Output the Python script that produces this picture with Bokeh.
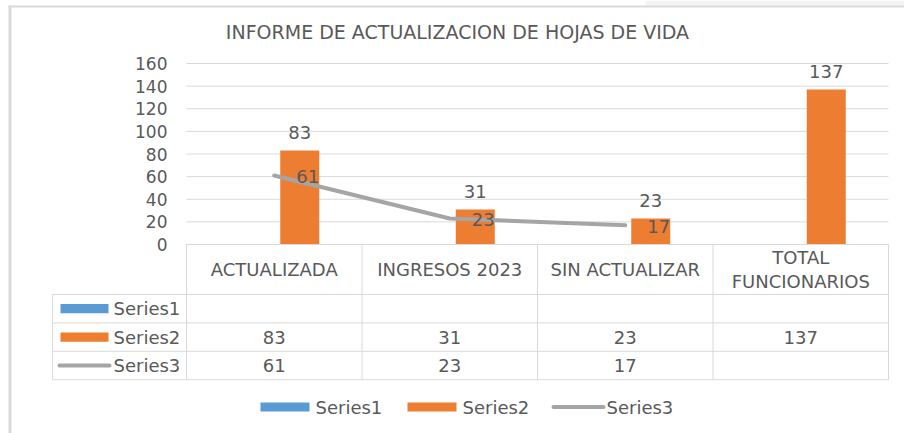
from bokeh.plotting import figure
from bokeh.models import Range1d, ColumnDataSource
from bokeh.core.properties import value
from bokeh.embed import file_html
from bokeh.resources import INLINE

# ---------------- data ----------------
title_text = "INFORME  DE ACTUALIZACION  DE HOJAS DE VIDA"
categories = ["ACTUALIZADA", "INGRESOS 2023", "SIN ACTUALIZAR", "TOTAL\nFUNCIONARIOS"]
series_names = ["Series1", "Series2", "Series3"]
series1 = [None, None, None, None]
series2 = [83, 31, 23, 137]
series3 = [61, 23, 17, None]
y_ticks = [0, 20, 40, 60, 80, 100, 120, 140, 160]

# ---------------- styling / layout ----------------
FONT = value("DejaVu Sans")
TXT = "#595959"
GRID = "#d9d9d9"
BLUE, ORANGE, GRAY = "#5b9bd5", "#ed7d31", "#a5a5a5"
FS = "18px"
FS_TICK = "17px"

W, H = 904, 433
PLOT_L, PLOT_R = 186, 888     # pixel extent of category area
ZERO_Y, TOP_Y = 244, 63       # pixel rows of 0 and max tick
NCAT = len(categories)
XPX = NCAT / (PLOT_R - PLOT_L)
YPX = y_ticks[-1] / (ZERO_Y - TOP_Y)


def xd(px):
    return (px - PLOT_L) * XPX


x_range = Range1d(xd(0), xd(W))
y_range = Range1d(-(H - ZERO_Y) * YPX, ZERO_Y * YPX)

p = figure(width=W, height=H, x_range=x_range, y_range=y_range,
           x_axis_location=None, y_axis_location=None,
           output_backend="svg", toolbar_location=None, min_border=0)
# second y scale: pixels below the zero line (for table, title, legend rows)
p.extra_y_ranges = {"px": Range1d(H - ZERO_Y, -ZERO_Y)}
p.outline_line_color = None
p.background_fill_color = "white"
p.border_fill_color = "white"
p.xgrid.grid_line_color = None
p.ygrid.grid_line_color = None

# chart frame border (left / top) and window band
p.quad(left=[xd(645)], right=[xd(W)], top=[-ZERO_Y], bottom=[5 - ZERO_Y],
       fill_color="#f4f4f4", line_color=None, y_range_name="px")
p.segment(x0=[xd(8), xd(9.5)], x1=[xd(W), xd(9.5)], y0=[6 - ZERO_Y, 5 - ZERO_Y],
          y1=[6 - ZERO_Y, H - ZERO_Y], line_color=GRID, line_width=[2, 3], y_range_name="px")

# title
p.text(x=[xd(463)], y=[31 - ZERO_Y], text=[title_text], y_range_name="px",
       text_font=FONT, text_font_size="19px", text_color=TXT,
       text_align="center", text_baseline="middle")

# gridlines
gt = y_ticks[1:]
p.segment(x0=[0] * len(gt), x1=[NCAT] * len(gt), y0=gt, y1=gt, line_color=GRID, line_width=1)

# y tick labels
p.text(x=[xd(167)] * len(y_ticks), y=y_ticks, text=[str(t) for t in y_ticks],
       text_font=FONT, text_font_size=FS_TICK, text_color=TXT,
       text_align="right", text_baseline="middle")

# bars (Series2); Series1 occupies the left slot but is empty
BAR_OFF, BAR_W = 25.5 * XPX, 39 * XPX
bx = [i + 0.5 + BAR_OFF for i in range(NCAT)]
bar_src = ColumnDataSource(dict(x=bx, top=series2, lab=[str(v) for v in series2]))
p.vbar(x="x", top="top", bottom=0, width=BAR_W, source=bar_src,
       fill_color=ORANGE, line_color=None)
p.text(x="x", y="top", text="lab", source=bar_src, y_offset=-18,
       text_font=FONT, text_font_size=FS, text_color=TXT,
       text_align="center", text_baseline="middle")

# line (Series3)
lx = [i + 0.5 for i, v in enumerate(series3) if v is not None]
ly = [v for v in series3 if v is not None]
line_src = ColumnDataSource(dict(x=lx, y=ly, lab=[str(v) for v in ly]))
p.line(x="x", y="y", source=line_src, line_color=GRAY, line_width=4, line_cap="round")
p.text(x="x", y="y", text="lab", source=line_src, x_offset=22, y_offset=1,
       text_font=FONT, text_font_size=FS, text_color=TXT,
       text_align="left", text_baseline="middle")

# ---------------- data table ----------------
HEADER_H, ROW_H = 50, 28.4
row_edges = [HEADER_H + k * ROW_H for k in range(4)]
lab_l = xd(52)
p.segment(x0=[0] + [lab_l] * 4, x1=[NCAT] * 5, y0=[0] + row_edges, y1=[0] + row_edges,
          y_range_name="px", line_color=GRID, line_width=1)
vx = list(range(NCAT + 1))
p.segment(x0=vx + [lab_l], x1=vx + [lab_l], y0=[0] * len(vx) + [HEADER_H],
          y1=[row_edges[-1]] * (len(vx) + 1), y_range_name="px", line_color=GRID, line_width=1)
p.text(x=[i + 0.5 for i in range(NCAT)], y=[HEADER_H / 2] * NCAT, text=categories,
       y_range_name="px", text_font=FONT, text_font_size=FS, text_color=TXT,
       text_align="center", text_baseline="middle", text_line_height=1.15)
row_c = [HEADER_H + (k + 0.5) * ROW_H for k in range(3)]
p.text(x=[xd(113)] * 3, y=row_c, text=series_names, y_range_name="px",
       text_font=FONT, text_font_size=FS, text_color=TXT,
       text_align="left", text_baseline="middle")
p.quad(left=[xd(60)] * 2, right=[xd(108)] * 2,
       top=[row_c[0] - 4.6, row_c[1] - 4.6], bottom=[row_c[0] + 4.6, row_c[1] + 4.6],
       fill_color=[BLUE, ORANGE], line_color=None, y_range_name="px")
p.segment(x0=[xd(59)], x1=[xd(109)], y0=[row_c[2]], y1=[row_c[2]], line_color=GRAY,
          line_width=4, line_cap="round", y_range_name="px")
for k, ser in enumerate([series1, series2, series3]):
    xs = [i + 0.5 for i, v in enumerate(ser) if v is not None]
    ts = [str(v) for v in ser if v is not None]
    if xs:
        p.text(x=xs, y=[row_c[k]] * len(xs), text=ts, y_range_name="px",
               text_font=FONT, text_font_size=FS, text_color=TXT,
               text_align="center", text_baseline="middle")

# ---------------- legend (bottom) ----------------
LEG_Y = 406.5 - ZERO_Y
leg_x = [260, 407, 552]          # left edge of each legend key
KEY_W = 49
p.quad(left=[xd(leg_x[0]), xd(leg_x[1])], right=[xd(leg_x[0] + KEY_W), xd(leg_x[1] + KEY_W)],
       top=[LEG_Y - 4.6] * 2, bottom=[LEG_Y + 4.6] * 2,
       fill_color=[BLUE, ORANGE], line_color=None, y_range_name="px")
p.segment(x0=[xd(leg_x[2] + 1)], x1=[xd(leg_x[2] + 51)], y0=[LEG_Y], y1=[LEG_Y],
          line_color=GRAY, line_width=4, line_cap="round", y_range_name="px")
p.text(x=[xd(leg_x[0] + KEY_W + 6), xd(leg_x[1] + KEY_W + 6), xd(leg_x[2] + 54)],
       y=[LEG_Y] * 3, text=series_names, y_range_name="px",
       text_font=FONT, text_font_size=FS, text_color=TXT,
       text_align="left", text_baseline="middle")

open("out.html", "w").write(file_html(p, INLINE))
